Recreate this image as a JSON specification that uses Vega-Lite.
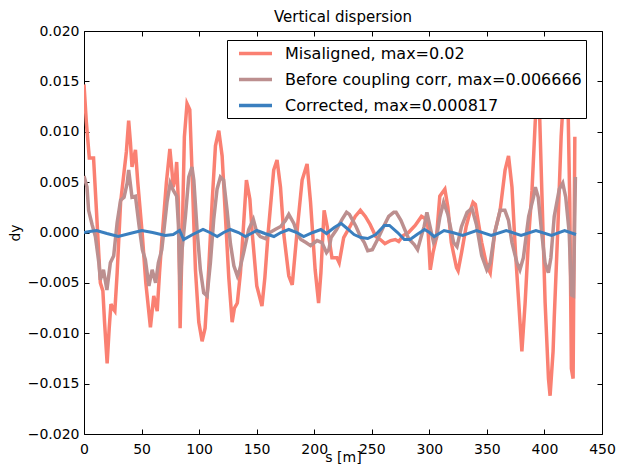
{
"$schema": "https://vega.github.io/schema/vega-lite/v6.json",
"width": 518, "height": 403,
"autosize": {"type": "none"},
"padding": {"left": 84, "top": 31, "right": 15, "bottom": 35},
"title": {"text": "Vertical dispersion", "fontSize": 15, "fontWeight": "normal", "font": "DejaVu Sans", "color": "black", "offset": -1},
"config": {
  "view": {"stroke": "black", "strokeWidth": 1},
  "font": "DejaVu Sans",
  "axis": {"grid": false, "domain": false, "labelFlush": false, "labelOverlap": false, "tickColor": "black", "tickSize": -5, "labelPadding": 10, "labelFontSize": 14, "labelColor": "black", "labelFont": "DejaVu Sans", "titleFont": "DejaVu Sans", "titleFontSize": 14, "titleFontWeight": "normal", "titleColor": "black"}
},
"datasets": {
"d": [
{"k":"m","s":0,"dy":0.0147},{"k":"m","s":2,"dy":0.011},{"k":"m","s":4.6,"dy":0.0074},{"k":"m","s":8.3,"dy":0.0074},{"k":"m","s":10.9,"dy":0.002},{"k":"m","s":14.2,"dy":-0.005},{"k":"m","s":16.4,"dy":-0.0058},{"k":"m","s":17.9,"dy":-0.009},{"k":"m","s":20.1,"dy":-0.013},{"k":"m","s":21.9,"dy":-0.0095},{"k":"m","s":23.4,"dy":-0.0071},{"k":"m","s":24.9,"dy":-0.0075},{"k":"m","s":26.8,"dy":-0.0078},{"k":"m","s":28.8,"dy":-0.004},{"k":"m","s":31.8,"dy":0.003},{"k":"m","s":34.8,"dy":0.006},{"k":"m","s":36.8,"dy":0.008},{"k":"m","s":38.8,"dy":0.0111},{"k":"m","s":40.3,"dy":0.009},{"k":"m","s":41.7,"dy":0.0065},{"k":"m","s":44.7,"dy":0.0082},{"k":"m","s":46.7,"dy":0.005},{"k":"m","s":50.7,"dy":-0.0003},{"k":"m","s":53.7,"dy":-0.005},{"k":"m","s":57.7,"dy":-0.0094},{"k":"m","s":60.6,"dy":-0.0063},{"k":"m","s":63.6,"dy":-0.0078},{"k":"m","s":65.6,"dy":-0.004},{"k":"m","s":67.6,"dy":-0.0008},{"k":"m","s":71.6,"dy":0.005},{"k":"m","s":74.6,"dy":0.0083},{"k":"m","s":76.5,"dy":0.006},{"k":"m","s":77.5,"dy":0.0045},{"k":"m","s":79.5,"dy":0.0055},{"k":"m","s":80.5,"dy":0.007},{"k":"m","s":82,"dy":0.003},{"k":"m","s":83.5,"dy":-0.0095},{"k":"m","s":85,"dy":-0.002},{"k":"m","s":87.2,"dy":0.0095},{"k":"m","s":89.5,"dy":0.0128},{"k":"m","s":91.9,"dy":0.0122},{"k":"m","s":93.8,"dy":0.0062},{"k":"m","s":96.8,"dy":-0.0037},{"k":"m","s":99.7,"dy":-0.0089},{"k":"m","s":102.6,"dy":-0.0108},{"k":"m","s":105.2,"dy":-0.0095},{"k":"m","s":108.3,"dy":-0.0037},{"k":"m","s":111.3,"dy":0.003},{"k":"m","s":114.2,"dy":0.0086},{"k":"m","s":117.1,"dy":0.0101},{"k":"m","s":120,"dy":0.0076},{"k":"m","s":123,"dy":0.0013},{"k":"m","s":125.8,"dy":-0.0045},{"k":"m","s":128.7,"dy":-0.0089},{"k":"m","s":130.7,"dy":-0.0075},{"k":"m","s":133.2,"dy":-0.007},{"k":"m","s":135.9,"dy":-0.004},{"k":"m","s":138.2,"dy":0.0},{"k":"m","s":141.1,"dy":0.0052},{"k":"m","s":144.1,"dy":0.0033},{"k":"m","s":146.1,"dy":0.0},{"k":"m","s":150.1,"dy":-0.0053},{"k":"m","s":154.6,"dy":-0.0073},{"k":"m","s":157.1,"dy":-0.0045},{"k":"m","s":160,"dy":0.0},{"k":"m","s":164.8,"dy":0.0062},{"k":"m","s":167.7,"dy":0.0072},{"k":"m","s":170.7,"dy":0.0045},{"k":"m","s":173.6,"dy":-0.0002},{"k":"m","s":177.9,"dy":-0.0043},{"k":"m","s":180.9,"dy":-0.0052},{"k":"m","s":185.5,"dy":0.0006},{"k":"m","s":189.5,"dy":0.0052},{"k":"m","s":193.8,"dy":0.0068},{"k":"m","s":196.8,"dy":0.003},{"k":"m","s":200.8,"dy":-0.0037},{"k":"m","s":203.8,"dy":-0.007},{"k":"m","s":205.8,"dy":-0.004},{"k":"m","s":208.6,"dy":0.0022},{"k":"m","s":211.3,"dy":0.0006},{"k":"m","s":215.4,"dy":-0.0025},{"k":"m","s":219.7,"dy":-0.0025},{"k":"m","s":221.7,"dy":-0.003},{"k":"m","s":225.6,"dy":-0.0005},{"k":"m","s":231.1,"dy":0.0006},{"k":"m","s":235.6,"dy":0.0016},{"k":"m","s":240.1,"dy":0.0022},{"k":"m","s":244.4,"dy":0.0016},{"k":"m","s":248.5,"dy":0.0008},{"k":"m","s":253.5,"dy":-0.0004},{"k":"m","s":257.4,"dy":-0.0007},{"k":"m","s":261.4,"dy":-0.0011},{"k":"m","s":266.4,"dy":-0.0008},{"k":"m","s":270.4,"dy":-0.0007},{"k":"m","s":273.4,"dy":-0.0009},{"k":"m","s":277.3,"dy":-0.0003},{"k":"m","s":281.9,"dy":0.0},{"k":"m","s":287.7,"dy":0.0007},{"k":"m","s":293.2,"dy":0.0016},{"k":"m","s":296.2,"dy":0.0014},{"k":"m","s":298.7,"dy":0.0006},{"k":"m","s":300.8,"dy":-0.0037},{"k":"m","s":303.2,"dy":-0.002},{"k":"m","s":306.2,"dy":-0.0005},{"k":"m","s":309.1,"dy":0.0036},{"k":"m","s":313.5,"dy":0.0043},{"k":"m","s":316.1,"dy":0.0025},{"k":"m","s":319.1,"dy":-0.001},{"k":"m","s":323.6,"dy":-0.0035},{"k":"m","s":325,"dy":-0.0038},{"k":"m","s":328,"dy":-0.002},{"k":"m","s":332,"dy":0.0006},{"k":"m","s":335.7,"dy":0.0022},{"k":"m","s":338,"dy":0.003},{"k":"m","s":340,"dy":0.0028},{"k":"m","s":345.5,"dy":-0.001},{"k":"m","s":349.9,"dy":-0.0033},{"k":"m","s":352.9,"dy":-0.004},{"k":"m","s":356.8,"dy":0.0},{"k":"m","s":361.5,"dy":0.0022},{"k":"m","s":365.8,"dy":0.0062},{"k":"m","s":368.8,"dy":0.0076},{"k":"m","s":371.8,"dy":0.0045},{"k":"m","s":374.7,"dy":-0.0017},{"k":"m","s":377.7,"dy":-0.007},{"k":"m","s":380.4,"dy":-0.0118},{"k":"m","s":383.2,"dy":-0.007},{"k":"m","s":386.3,"dy":-0.0004},{"k":"m","s":389.2,"dy":0.0042},{"k":"m","s":392,"dy":0.011},{"k":"m","s":393.6,"dy":0.013},{"k":"m","s":395.6,"dy":0.0125},{"k":"m","s":397.6,"dy":0.0046},{"k":"m","s":400.6,"dy":-0.007},{"k":"m","s":403.5,"dy":-0.0145},{"k":"m","s":404.9,"dy":-0.0162},{"k":"m","s":407.5,"dy":-0.0118},{"k":"m","s":408.5,"dy":-0.0085},{"k":"m","s":411.5,"dy":0.0},{"k":"m","s":414.5,"dy":0.0095},{"k":"m","s":416,"dy":0.0125},{"k":"m","s":418.5,"dy":0.0115},{"k":"m","s":420.5,"dy":0.0125},{"k":"m","s":422,"dy":0.003},{"k":"m","s":423.4,"dy":-0.0135},{"k":"m","s":424.9,"dy":-0.0145},{"k":"m","s":426.4,"dy":0.0095},
{"k":"b","s":0,"dy":0.0056},{"k":"b","s":2.6,"dy":0.0045},{"k":"b","s":4,"dy":0.0022},{"k":"b","s":7,"dy":0.0008},{"k":"b","s":9.9,"dy":-0.0004},{"k":"b","s":12.9,"dy":-0.003},{"k":"b","s":14.2,"dy":-0.0047},{"k":"b","s":16.9,"dy":-0.0037},{"k":"b","s":19.9,"dy":-0.0057},{"k":"b","s":22.9,"dy":-0.003},{"k":"b","s":25.8,"dy":-0.0023},{"k":"b","s":28.8,"dy":0.001},{"k":"b","s":31.8,"dy":0.0032},{"k":"b","s":34.8,"dy":0.0035},{"k":"b","s":37.5,"dy":0.0049},{"k":"b","s":38.8,"dy":0.0062},{"k":"b","s":41.7,"dy":0.0035},{"k":"b","s":44.7,"dy":0.0036},{"k":"b","s":47.7,"dy":0.0008},{"k":"b","s":50.7,"dy":-0.0017},{"k":"b","s":53.3,"dy":-0.0027},{"k":"b","s":56.4,"dy":-0.0053},{"k":"b","s":59.2,"dy":-0.0037},{"k":"b","s":62.2,"dy":-0.005},{"k":"b","s":64.6,"dy":-0.003},{"k":"b","s":67.6,"dy":-0.0017},{"k":"b","s":72.1,"dy":0.003},{"k":"b","s":74.9,"dy":0.0049},{"k":"b","s":77.5,"dy":0.0042},{"k":"b","s":80.5,"dy":0.0036},{"k":"b","s":82,"dy":0.0008},{"k":"b","s":83.5,"dy":-0.0057},{"k":"b","s":85.2,"dy":-0.0017},{"k":"b","s":88.1,"dy":0.0016},{"k":"b","s":91,"dy":0.0055},{"k":"b","s":93.8,"dy":0.0065},{"k":"b","s":95.4,"dy":0.0052},{"k":"b","s":98.2,"dy":0.0003},{"k":"b","s":101.1,"dy":-0.0037},{"k":"b","s":104,"dy":-0.006},{"k":"b","s":106.9,"dy":-0.0063},{"k":"b","s":109.8,"dy":-0.003},{"k":"b","s":112.7,"dy":0.0013},{"k":"b","s":115.6,"dy":0.0043},{"k":"b","s":118.5,"dy":0.0055},{"k":"b","s":121.3,"dy":0.0052},{"k":"b","s":124.3,"dy":0.0022},{"k":"b","s":127.2,"dy":-0.0011},{"k":"b","s":130.2,"dy":-0.0033},{"k":"b","s":133.2,"dy":-0.0043},{"k":"b","s":135.2,"dy":-0.0037},{"k":"b","s":138.7,"dy":-0.002},{"k":"b","s":143.1,"dy":0.0003},{"k":"b","s":147.1,"dy":0.0013},{"k":"b","s":150.1,"dy":0.0},{"k":"b","s":153.1,"dy":-0.0004},{"k":"b","s":157.6,"dy":-0.0006},{"k":"b","s":161.5,"dy":0.0},{"k":"b","s":166,"dy":0.0003},{"k":"b","s":170.9,"dy":0.0006},{"k":"b","s":175,"dy":0.0012},{"k":"b","s":177.9,"dy":0.0018},{"k":"b","s":182.3,"dy":0.0009},{"k":"b","s":185.5,"dy":-0.0002},{"k":"b","s":188.4,"dy":-0.0007},{"k":"b","s":192.8,"dy":-0.001},{"k":"b","s":196.8,"dy":-0.0013},{"k":"b","s":202.5,"dy":-0.0008},{"k":"b","s":206.7,"dy":-0.001},{"k":"b","s":210.7,"dy":-0.002},{"k":"b","s":212.7,"dy":-0.0017},{"k":"b","s":214.7,"dy":-0.0005},{"k":"b","s":219.4,"dy":0.0003},{"k":"b","s":224.2,"dy":0.0013},{"k":"b","s":228.1,"dy":0.002},{"k":"b","s":230.6,"dy":0.0018},{"k":"b","s":236.3,"dy":0.0006},{"k":"b","s":240.1,"dy":-0.0004},{"k":"b","s":243.5,"dy":-0.001},{"k":"b","s":246.5,"dy":-0.0018},{"k":"b","s":250.5,"dy":-0.0017},{"k":"b","s":255,"dy":-0.0007},{"k":"b","s":260.3,"dy":0.0006},{"k":"b","s":264.7,"dy":0.0016},{"k":"b","s":269.1,"dy":0.002},{"k":"b","s":271.1,"dy":0.002},{"k":"b","s":275.3,"dy":0.0012},{"k":"b","s":281.9,"dy":-0.0006},{"k":"b","s":286.9,"dy":-0.0012},{"k":"b","s":289.8,"dy":-0.0017},{"k":"b","s":293.2,"dy":-0.0003},{"k":"b","s":295.5,"dy":0.0006},{"k":"b","s":297.9,"dy":0.002},{"k":"b","s":300.2,"dy":0.0008},{"k":"b","s":303.7,"dy":-0.001},{"k":"b","s":306.2,"dy":-0.0005},{"k":"b","s":309.1,"dy":0.0015},{"k":"b","s":312.4,"dy":0.003},{"k":"b","s":316.1,"dy":0.0018},{"k":"b","s":321.1,"dy":-0.001},{"k":"b","s":324,"dy":-0.0014},{"k":"b","s":328,"dy":0.0006},{"k":"b","s":332.8,"dy":0.002},{"k":"b","s":337,"dy":0.0024},{"k":"b","s":340.9,"dy":0.0008},{"k":"b","s":345.5,"dy":-0.0023},{"k":"b","s":349.9,"dy":-0.0037},{"k":"b","s":352.9,"dy":-0.003},{"k":"b","s":356.8,"dy":0.0},{"k":"b","s":361.5,"dy":0.0022},{"k":"b","s":365.6,"dy":0.0022},{"k":"b","s":368.8,"dy":0.0012},{"k":"b","s":371.8,"dy":-0.001},{"k":"b","s":376.1,"dy":-0.003},{"k":"b","s":378.7,"dy":-0.0037},{"k":"b","s":381.7,"dy":-0.0025},{"k":"b","s":386.3,"dy":0.0016},{"k":"b","s":390.5,"dy":0.0035},{"k":"b","s":392.1,"dy":0.0045},{"k":"b","s":394.6,"dy":0.0035},{"k":"b","s":397.6,"dy":0.0},{"k":"b","s":400.5,"dy":-0.003},{"k":"b","s":403.4,"dy":-0.004},{"k":"b","s":405.6,"dy":-0.0025},{"k":"b","s":408.5,"dy":0.0016},{"k":"b","s":412.9,"dy":0.0043},{"k":"b","s":415.9,"dy":0.0049},{"k":"b","s":418.5,"dy":0.0035},{"k":"b","s":421.5,"dy":0.0},{"k":"b","s":423.4,"dy":-0.0062},{"k":"b","s":425.2,"dy":-0.0063},{"k":"b","s":426.9,"dy":0.0055},
{"k":"c","s":0,"dy":0.0},{"k":"c","s":5,"dy":0.0001},{"k":"c","s":10.9,"dy":0.0002},{"k":"c","s":19.9,"dy":-0.0001},{"k":"c","s":29.8,"dy":-0.0004},{"k":"c","s":39.8,"dy":-0.0001},{"k":"c","s":50.3,"dy":0.0002},{"k":"c","s":59.6,"dy":0.0},{"k":"c","s":70.6,"dy":-0.0003},{"k":"c","s":77.5,"dy":-0.0002},{"k":"c","s":83.1,"dy":0.0002},{"k":"c","s":86.5,"dy":-0.0007},{"k":"c","s":94.4,"dy":-0.0002},{"k":"c","s":103.4,"dy":0.0003},{"k":"c","s":109.3,"dy":0.0},{"k":"c","s":115.7,"dy":-0.0004},{"k":"c","s":121.3,"dy":0.0},{"k":"c","s":127.2,"dy":0.0003},{"k":"c","s":134.2,"dy":0.0},{"k":"c","s":140.2,"dy":-0.0004},{"k":"c","s":150.1,"dy":0.0002},{"k":"c","s":157.1,"dy":-0.0001},{"k":"c","s":165,"dy":-0.0004},{"k":"c","s":171,"dy":0.0},{"k":"c","s":177.9,"dy":0.0003},{"k":"c","s":184.9,"dy":0.0},{"k":"c","s":190.8,"dy":-0.0004},{"k":"c","s":198.8,"dy":0.0},{"k":"c","s":205.8,"dy":0.0003},{"k":"c","s":210.7,"dy":-0.0001},{"k":"c","s":217.4,"dy":0.0005},{"k":"c","s":223.3,"dy":0.0009},{"k":"c","s":228.6,"dy":0.0004},{"k":"c","s":234.6,"dy":-0.0002},{"k":"c","s":240.5,"dy":-0.0005},{"k":"c","s":246.5,"dy":-0.0006},{"k":"c","s":253.5,"dy":-0.0002},{"k":"c","s":260.9,"dy":0.0007},{"k":"c","s":265.4,"dy":0.0007},{"k":"c","s":272.4,"dy":0.0},{"k":"c","s":278.3,"dy":-0.0007},{"k":"c","s":283.3,"dy":-0.0007},{"k":"c","s":289.3,"dy":-0.0002},{"k":"c","s":295.8,"dy":0.0003},{"k":"c","s":300.2,"dy":0.0},{"k":"c","s":304.2,"dy":-0.0004},{"k":"c","s":312.8,"dy":0.0002},{"k":"c","s":320.1,"dy":0.0},{"k":"c","s":329,"dy":-0.0003},{"k":"c","s":340.9,"dy":0.0002},{"k":"c","s":353.8,"dy":-0.0003},{"k":"c","s":366.8,"dy":0.0002},{"k":"c","s":379.7,"dy":-0.0003},{"k":"c","s":392.6,"dy":0.0002},{"k":"c","s":406.1,"dy":-0.0003},{"k":"c","s":417.5,"dy":0.0002},{"k":"c","s":427.4,"dy":-0.0002}
]
},
"data": {"name": "d"},
"layer": [
  {
    "encoding": {
      "x": {"field": "s", "type": "quantitative", "scale": {"domain": [0, 450], "nice": false, "zero": false}, "axis": {"title": "s [m]", "values": [0,50,100,150,200,250,300,350,400,450], "labelPadding": 13, "titleY": 16, "titleBaseline": "top"}},
      "y": {"field": "dy", "type": "quantitative", "scale": {"domain": [-0.02, 0.02], "nice": false}, "axis": {"title": "dy", "format": ".3f", "values": [-0.02,-0.015,-0.01,-0.005,0,0.005,0.01,0.015,0.02], "titlePadding": 5}},
      "color": {"field": "k", "type": "nominal", "scale": {"domain": ["m","b","c"], "range": ["#fa8072","#bc8f8f","#3a7fbf"]},
        "legend": {"title": null, "orient": "none", "legendX": 143, "legendY": 9, "strokeColor": "black", "fillColor": "white", "padding": 4, "cornerRadius": 0, "symbolType": "M-2.2,0H2.2", "symbolStrokeWidth": 3.5, "symbolSize": 225, "symbolOffset": 15, "labelFontSize": 16, "labelFont": "DejaVu Sans", "labelColor": "black", "labelLimit": 0, "labelOffset": 20, "rowPadding": 8,
          "labelExpr": "datum.value == 'm' ? 'Misaligned, max=0.02' : datum.value == 'b' ? 'Before coupling corr, max=0.006666' : 'Corrected, max=0.000817'"}}
    },
    "layer": [
      {"transform": [{"filter": "datum.k == 'm'"}], "mark": {"type": "line", "strokeWidth": 3.5, "clip": true}},
      {"transform": [{"filter": "datum.k == 'b'"}], "mark": {"type": "line", "strokeWidth": 3.5, "clip": true}},
      {"transform": [{"filter": "datum.k == 'c'"}], "mark": {"type": "line", "strokeWidth": 3, "clip": true}}
    ]
  },
  {
    "transform": [{"filter": "datum.k == 'c'"}],
    "mark": {"type": "line", "opacity": 0},
    "encoding": {
      "x": {"field": "s", "type": "quantitative", "axis": {"orient": "top", "labels": false, "title": null, "values": [0,50,100,150,200,250,300,350,400,450]}},
      "y": {"field": "dy", "type": "quantitative", "axis": {"orient": "right", "labels": false, "title": null, "values": [-0.02,-0.015,-0.01,-0.005,0,0.005,0.01,0.015,0.02]}}
    }
  }
],
"resolve": {"axis": {"x": "independent", "y": "independent"}}
}
